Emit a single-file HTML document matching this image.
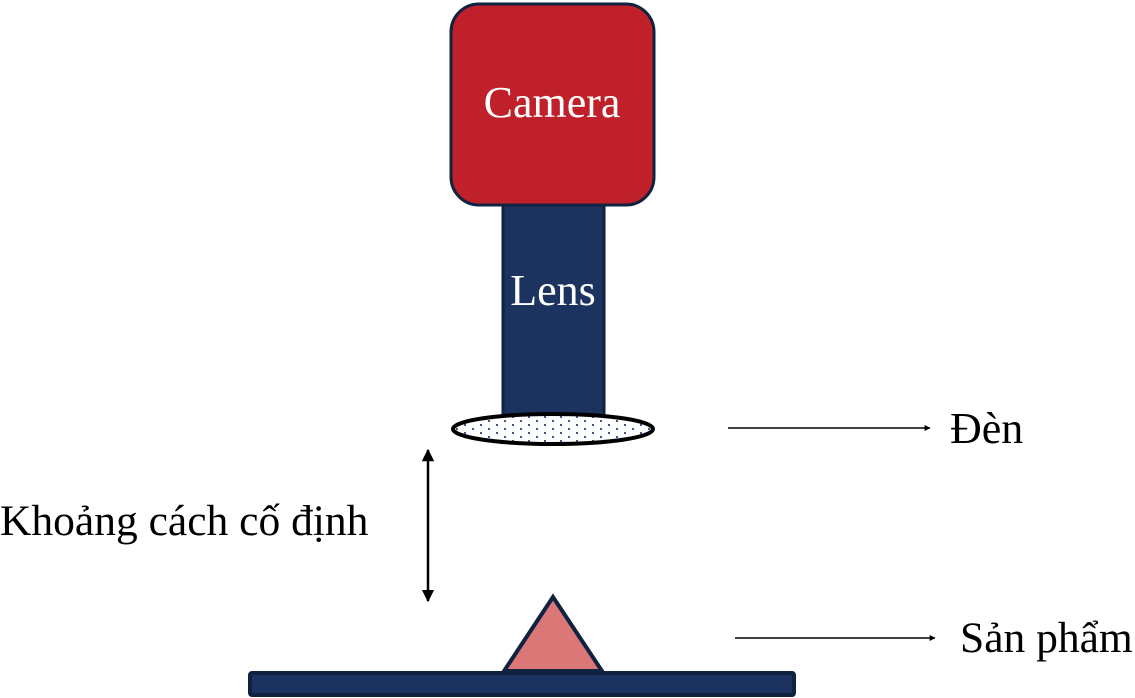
<!DOCTYPE html>
<html><head><style>body{margin:0;background:#fff}svg{display:block}</style></head><body>
<svg width="1135" height="698" viewBox="0 0 1135 698" xmlns="http://www.w3.org/2000/svg">
<defs>
<marker id="a" viewBox="0 0 10 10" refX="9" refY="5" markerWidth="5" markerHeight="5" orient="auto-start-reverse"><path d="M0,0L10,5L0,10z" fill="#000"/></marker>
<marker id="b" viewBox="0 0 10 10" refX="9" refY="5" markerWidth="4" markerHeight="4" orient="auto-start-reverse"><path d="M0,0L10,5L0,10z" fill="#000"/></marker>
<pattern id="d" width="16" height="8" patternUnits="userSpaceOnUse"><rect x="0" y="0" width="2" height="2" fill="#3b5a8a"/><rect x="8" y="4" width="2" height="2" fill="#3b5a8a"/></pattern>
</defs>
<rect x="503" y="203" width="101" height="212" fill="#1c3360" stroke="#0f2240" stroke-width="3"/>
<rect x="451" y="4" width="203" height="201" rx="28" fill="#c0202a" stroke="#0f2240" stroke-width="3"/>
<text x="552" y="117" font-family="Liberation Serif,serif" font-size="44" fill="#fff" text-anchor="middle">Camera</text>
<text x="553" y="305" font-family="Liberation Serif,serif" font-size="44" fill="#fff" text-anchor="middle">Lens</text>
<ellipse cx="553" cy="429" rx="100" ry="15" fill="#fff"/>
<ellipse cx="553" cy="429" rx="100" ry="15" fill="url(#d)" stroke="#000" stroke-width="4"/>
<line x1="728" y1="428" x2="930" y2="428" stroke="#000" stroke-width="1.5" marker-end="url(#b)"/>
<text x="950" y="443" font-family="Liberation Serif,serif" font-size="44">Đèn</text>
<line x1="428" y1="450" x2="428" y2="601" stroke="#000" stroke-width="2.5" marker-start="url(#a)" marker-end="url(#a)"/>
<text x="0" y="535" font-family="Liberation Serif,serif" font-size="43.5">Khoảng cách cố định</text>
<polygon points="553,597 504,671 602,671" fill="#db7777" stroke="#0f2240" stroke-width="4" stroke-linejoin="miter"/>
<rect x="250" y="673" width="544" height="22" rx="2" fill="#1c3360" stroke="#0f2240" stroke-width="4"/>
<line x1="735" y1="638" x2="935" y2="638" stroke="#000" stroke-width="1.5" marker-end="url(#b)"/>
<text x="960" y="652" font-family="Liberation Serif,serif" font-size="43.5">Sản phẩm</text>
</svg>
</body></html>
